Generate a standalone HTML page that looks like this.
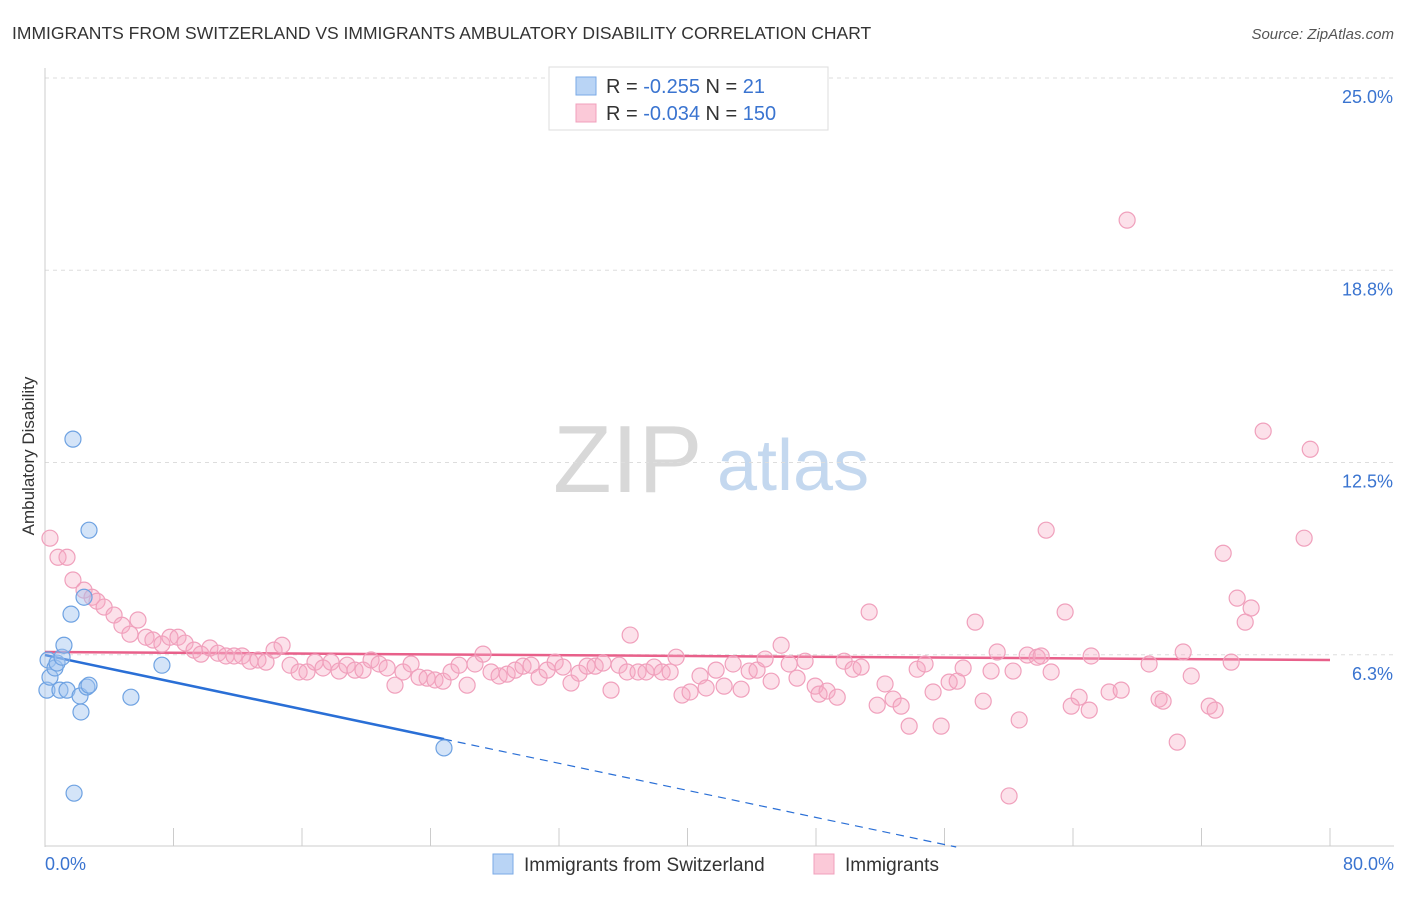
<!DOCTYPE html>
<html><head><meta charset="utf-8"><style>
body{margin:0;background:#fff;font-family:"Liberation Sans",sans-serif;}
svg text{font-family:"Liberation Sans",sans-serif;}
</style></head><body>
<svg id="chart" width="1406" height="892" xmlns="http://www.w3.org/2000/svg">
<text x="12" y="39" font-size="17.5" fill="#333">IMMIGRANTS FROM SWITZERLAND VS IMMIGRANTS AMBULATORY DISABILITY CORRELATION CHART</text>
<text x="1394" y="39" font-size="15" fill="#555" font-style="italic" text-anchor="end">Source: ZipAtlas.com</text>
<g>
<text x="553" y="492" font-size="96" fill="#d8d8d8" font-family="Liberation Serif,serif">ZIP</text>
<text x="717" y="490" font-size="72" fill="#c4d8ef">atlas</text>
</g>
<g id="grid"></g><g id="axes"></g><g id="lines"></g><g id="pts"></g>
<text transform="translate(34,456) rotate(-90)" font-size="17" fill="#333" text-anchor="middle">Ambulatory Disability</text>
<g>
<rect x="549" y="67" width="279" height="63" fill="#fff" stroke="#ddd"/>
<rect x="576" y="77" width="20" height="18" fill="#b9d4f5" stroke="#7aaae6"/>
<rect x="576" y="104" width="20" height="18" fill="#fbc9d8" stroke="#f0a0bc"/>
<text x="606" y="93" font-size="20" fill="#333">R = <tspan fill="#3a74d0">-0.255</tspan>   N =   <tspan fill="#3a74d0">21</tspan></text>
<text x="606" y="120" font-size="20" fill="#333">R = <tspan fill="#3a74d0">-0.034</tspan>   N = <tspan fill="#3a74d0">150</tspan></text>
</g>
<g>
<rect x="493" y="854" width="20" height="20" fill="#b9d4f5" stroke="#7aaae6"/>
<text x="524" y="871" font-size="19" fill="#333">Immigrants from Switzerland</text>
<rect x="814" y="854" width="20" height="20" fill="#fbc9d8" stroke="#f0a0bc"/>
<text x="845" y="871" font-size="19" fill="#333">Immigrants</text>
</g>
</svg>
<script>
const yTicks=[25.0,18.8,12.5,6.3];
const yTickVals=[25,18.75,12.5,6.25];
const xTickLabels=["0.0%","80.0%"];
const blueX=[0.12,0.19,0.31,0.62,0.75,0.93,1.06,1.18,1.37,1.74,1.62,1.81,2.18,2.24,2.43,2.61,2.74,2.74,5.35,7.28,24.84];
const blueY=[5.10,6.08,5.52,5.82,5.98,5.10,6.17,6.56,5.10,13.26,7.57,1.75,4.91,4.39,8.12,5.20,10.30,5.26,4.87,5.91,3.22];
const pinkX=[0.31,0.81,1.37,1.74,2.43,2.93,3.24,3.68,4.30,4.79,5.29,5.79,6.29,6.72,7.28,7.78,8.28,8.72,9.28,9.71,10.27,10.77,11.27,11.77,12.27,12.76,13.26,13.76,14.26,14.76,15.26,15.82,16.31,16.81,17.31,17.81,18.31,18.81,19.30,19.80,20.30,20.80,21.30,21.79,22.29,22.79,23.29,23.79,24.28,24.78,25.28,25.78,26.28,26.77,27.27,27.77,28.27,28.77,29.27,29.76,30.26,30.76,31.26,31.76,32.25,32.75,33.25,33.75,34.25,34.74,35.24,35.74,36.24,36.43,36.92,37.42,37.92,38.42,38.92,39.29,39.66,40.16,40.78,41.16,41.78,42.28,42.84,43.34,43.84,44.33,44.83,45.21,45.83,46.33,46.82,47.32,47.95,48.19,48.69,49.32,49.75,50.31,50.81,51.31,51.81,52.30,52.80,53.30,53.80,54.30,54.79,55.29,55.79,56.29,56.79,57.16,57.91,58.41,58.90,59.28,60.02,60.27,60.65,61.15,61.77,62.02,62.33,62.64,63.51,63.89,64.38,65.01,65.13,66.25,67.00,67.37,68.74,69.36,69.61,70.49,70.86,71.36,72.48,72.85,73.35,73.85,74.22,74.72,75.09,75.84,78.39,78.77];
const pinkY=[10.04,9.42,9.42,8.68,8.35,8.12,7.99,7.80,7.54,7.21,6.92,7.38,6.82,6.73,6.60,6.82,6.82,6.63,6.40,6.27,6.47,6.30,6.21,6.21,6.21,6.04,6.08,6.01,6.40,6.56,5.91,5.69,5.69,6.01,5.82,6.01,5.72,5.91,5.75,5.75,6.08,5.95,5.82,5.26,5.69,5.95,5.52,5.49,5.43,5.39,5.69,5.91,5.26,5.95,6.27,5.69,5.56,5.62,5.75,5.88,5.91,5.52,5.75,6.01,5.85,5.33,5.65,5.88,5.88,5.98,5.10,5.91,5.69,6.89,5.69,5.69,5.85,5.69,5.69,6.17,4.94,5.04,5.56,5.17,5.75,5.23,5.95,5.13,5.72,5.75,6.11,5.39,6.56,5.95,5.49,6.04,5.23,4.97,5.07,4.87,6.04,5.78,5.85,7.64,4.61,5.30,4.81,4.58,3.93,5.78,5.95,5.04,3.93,5.36,5.39,5.82,7.31,4.74,5.72,6.34,1.66,5.72,4.13,6.24,6.17,6.21,10.30,5.69,7.64,4.58,4.87,4.45,6.21,5.04,5.10,20.38,5.95,4.81,4.74,3.41,6.34,5.56,4.58,4.45,9.55,6.01,8.09,7.31,7.77,13.52,10.04,12.93];
const blueFit=[6.24,-0.11];
const pinkFit=[6.34,-0.00325];

const NS="http://www.w3.org/2000/svg";
const X0=45,X1=1330,Y0=847,Y25=78;
const sx=v=>X0+(v/80)*(X1-X0);
const sy=v=>Y0-(v/25)*(Y0-Y25);
function mk(tag,attrs,parent){const e=document.createElementNS(NS,tag);for(const k in attrs)e.setAttribute(k,attrs[k]);document.getElementById(parent).appendChild(e);return e;}
yTickVals.forEach((v,i)=>{
 const g=mk('line',{x1:X0,x2:1394,y1:sy(v),y2:sy(v),stroke:'#ddd','stroke-dasharray':'4,4'},'grid');
 
 
 const t=mk('text',{x:1393,y:sy(v)+25,'font-size':18,fill:'#3a74d0','text-anchor':'end'},'axes');
 t.textContent=yTicks[i].toFixed(1)+'%';
 
 
});
const ax=mk('line',{x1:X0,x2:X0,y1:68,y2:847,stroke:'#ccc'},'axes');


const bx=mk('line',{x1:X0,x2:1394,y1:846,y2:846,stroke:'#ccc'},'axes');


for(let i=0;i<=10;i++){
 const t=mk('line',{x1:sx(i*8),x2:sx(i*8),y1:828,y2:846,stroke:'#ccc'},'axes');
 
 
}
[[0,'start',45],[80,'end',1394]].forEach((d,i)=>{
 const t=mk('text',{x:d[2],y:870,'font-size':18,fill:'#3a74d0','text-anchor':d[1]},'axes');
 t.textContent=xTickLabels[i];
 
 
});
pinkX.forEach((x,i)=>{
 const c=mk('circle',{cx:sx(x),cy:sy(pinkY[i]),r:8,fill:'rgba(246,170,196,0.35)',stroke:'#f0a0bc','stroke-width':1.2},'pts');
 
 
});
blueX.forEach((x,i)=>{
 const c=mk('circle',{cx:sx(x),cy:sy(blueY[i]),r:8,fill:'rgba(160,196,240,0.45)',stroke:'#6ea2e2','stroke-width':1.2},'pts');
 
 
});
const bmax=Math.max(...blueX);
const pl=mk('line',{x1:sx(0),y1:sy(pinkFit[0]),x2:sx(80),y2:sy(pinkFit[0]+pinkFit[1]*80),stroke:'#e8608a','stroke-width':2.5},'lines');


const bl=mk('line',{x1:sx(0),y1:sy(blueFit[0]),x2:sx(bmax),y2:sy(blueFit[0]+blueFit[1]*bmax),stroke:'#2a6fd6','stroke-width':2.5},'lines');


const xEnd=Math.min(80,-blueFit[0]/blueFit[1]);
const bd=mk('line',{x1:sx(bmax),y1:sy(blueFit[0]+blueFit[1]*bmax),x2:sx(xEnd),y2:sy(blueFit[0]+blueFit[1]*xEnd),stroke:'#2a6fd6','stroke-width':1.2,'stroke-dasharray':'8,6'},'lines');


</script>
</body></html>
